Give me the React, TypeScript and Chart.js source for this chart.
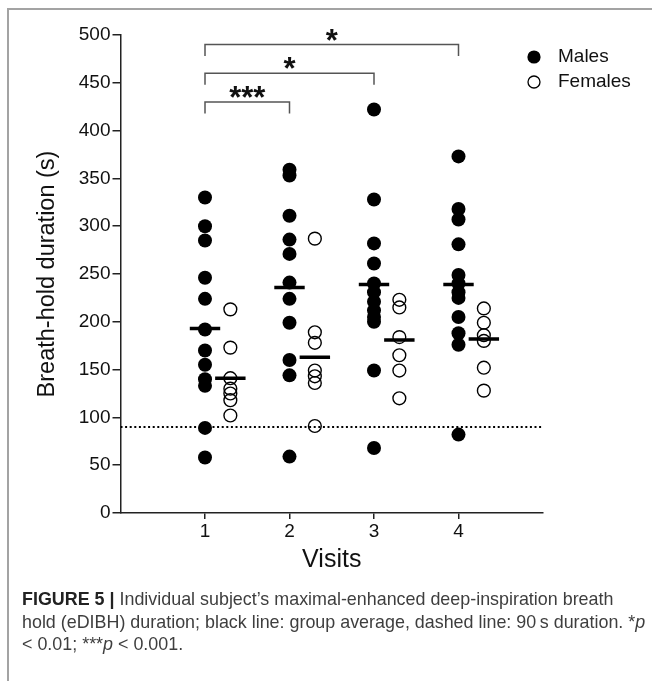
import React, { useEffect, useRef } from "react";
import { Chart, registerables } from "chart.js";

Chart.register(...registerables);

// ---------- data ----------
const visits = [1, 2, 3, 4];
const visitLabels = ["1", "2", "3", "4"];
const seriesNames = ["Males", "Females"];

const malesVisit1 = [330, 300, 285, 246, 224, 192, 170, 155, 140, 133, 89, 58];
const malesVisit2 = [359, 353, 311, 286, 271, 241, 224, 199, 160, 144, 59];
const malesVisit3 = [422, 328, 282, 261, 240, 231, 221, 212, 205, 200, 149, 68];
const malesVisit4 = [373, 318, 307, 281, 249, 240, 231, 225, 205, 188, 176, 82];

const femalesVisit1 = [213, 173, 141, 130, 125, 118, 102];
const femalesVisit2 = [287, 189, 178, 149, 143, 136, 91];
const femalesVisit3 = [223, 215, 184, 165, 149, 120];
const femalesVisit4 = [214, 199, 186, 180, 152, 128];

const maleMeans = [193, 236, 239, 239];
const femaleMeans = [141, 163, 181, 182];

const thresholdValue = 90;

const yMin = 0;
const yMax = 500;
const yStep = 50;
const xMin = 0;
const xMax = 5;

const bracketFrom = [1, 1, 1];
const bracketTo = [2, 3, 4];
const bracketLevel = [430, 460, 490];
const bracketLabels = ["***", "*", "*"];

const yTitle = "Breath-hold duration (s)";
const xTitle = "Visits";

// ---------- layout constants ----------
const FEMALE_OFFSET = 0.3;
const MEAN_HALF = 0.18;
const BRACKET_DROP = 12;
const FONT = '"Liberation Sans", Arial, Helvetica, sans-serif';
const W = 652;
const CH = 590;

const maleGroups = [malesVisit1, malesVisit2, malesVisit3, malesVisit4];
const femaleGroups = [femalesVisit1, femalesVisit2, femalesVisit3, femalesVisit4];

const overlayPlugin = {
  id: "overlay",
  afterDatasetsDraw(chart: any) {
    const { ctx, scales } = chart;
    const xs = scales.x;
    const ys = scales.y;
    ctx.save();
    // significance brackets
    for (let i = 0; i < bracketFrom.length; i++) {
      const x1 = xs.getPixelForValue(bracketFrom[i]);
      const x2 = xs.getPixelForValue(bracketTo[i]);
      const py = ys.getPixelForValue(bracketLevel[i]);
      const pd = ys.getPixelForValue(bracketLevel[i] - BRACKET_DROP);
      ctx.strokeStyle = "#555";
      ctx.lineWidth = 1.5;
      ctx.beginPath();
      ctx.moveTo(x1, pd);
      ctx.lineTo(x1, py);
      ctx.lineTo(x2, py);
      ctx.lineTo(x2, pd);
      ctx.stroke();
      ctx.fillStyle = "#111";
      ctx.font = `bold 31px ${FONT}`;
      ctx.textAlign = "center";
      ctx.textBaseline = "alphabetic";
      ctx.fillText(bracketLabels[i], (x1 + x2) / 2, py + 6);
    }
    // legend
    const lx = 534;
    const ly = [57, 82];
    ctx.fillStyle = "#000";
    ctx.beginPath();
    ctx.arc(lx, ly[0], 6.6, 0, Math.PI * 2);
    ctx.fill();
    ctx.strokeStyle = "#000";
    ctx.lineWidth = 1.3;
    ctx.beginPath();
    ctx.arc(lx, ly[1], 6, 0, Math.PI * 2);
    ctx.stroke();
    ctx.fillStyle = "#111";
    ctx.font = `19px ${FONT}`;
    ctx.textAlign = "left";
    ctx.textBaseline = "middle";
    ctx.fillText(seriesNames[0], 558, ly[0]);
    ctx.fillText(seriesNames[1], 558, ly[1]);
    ctx.restore();
  },
};

function meanSegments(means: number[], offset: number) {
  const out: any[] = [];
  means.forEach((m, i) => {
    out.push({ x: visits[i] + offset - MEAN_HALF, y: m });
    out.push({ x: visits[i] + offset + MEAN_HALF, y: m });
    out.push({ x: visits[i] + offset + 0.4, y: null });
  });
  return out;
}

export default function App() {
  const ref = useRef<HTMLCanvasElement | null>(null);

  useEffect(() => {
    if (!ref.current) return;
    const malePts = maleGroups.flatMap((g, i) => g.map((v) => ({ x: visits[i], y: v })));
    const femalePts = femaleGroups.flatMap((g, i) =>
      g.map((v) => ({ x: visits[i] + FEMALE_OFFSET, y: v }))
    );
    const chart = new Chart(ref.current, {
      type: "scatter",
      data: {
        datasets: [
          {
            type: "line",
            label: "threshold",
            data: [
              { x: xMin, y: thresholdValue },
              { x: xMax, y: thresholdValue },
            ],
            borderColor: "#000",
            borderWidth: 2,
            borderDash: [2, 2.6],
            pointRadius: 0,
            showLine: true,
            order: 5,
          } as any,
          {
            label: seriesNames[0],
            data: malePts,
            pointRadius: 7,
            pointBackgroundColor: "#000",
            pointBorderColor: "#000",
            pointBorderWidth: 0,
            order: 2,
            clip: false,
          } as any,
          {
            label: seriesNames[1],
            data: femalePts,
            pointRadius: 6.4,
            pointBackgroundColor: "rgba(0,0,0,0)",
            pointBorderColor: "#000",
            pointBorderWidth: 1.4,
            order: 1,
            clip: false,
          } as any,
          {
            type: "line",
            label: "male mean",
            data: meanSegments(maleMeans, 0),
            borderColor: "#000",
            borderWidth: 3.5,
            pointRadius: 0,
            spanGaps: false,
            showLine: true,
            order: 0,
          } as any,
          {
            type: "line",
            label: "female mean",
            data: meanSegments(femaleMeans, FEMALE_OFFSET),
            borderColor: "#000",
            borderWidth: 3.5,
            pointRadius: 0,
            spanGaps: false,
            showLine: true,
            order: 0,
          } as any,
        ],
      },
      options: {
        responsive: false,
        animation: false,
        events: [],
        layout: { padding: { left: 20, top: 35, right: W - 543, bottom: 0 } },
        plugins: { legend: { display: false }, tooltip: { enabled: false } },
        scales: {
          x: {
            type: "linear",
            min: xMin,
            max: xMax,
            afterFit: (s: any) => {
              s.height = CH - 513;
            },
            afterBuildTicks: (s: any) => {
              s.ticks = visits.map((v) => ({ value: v }));
            },
            ticks: {
              callback: (v: any) => visitLabels[visits.indexOf(Number(v))] ?? "",
              font: { size: 19, family: FONT },
              color: "#111",
              padding: 1,
              maxRotation: 0,
              autoSkip: false,
            },
            grid: { drawOnChartArea: false, drawTicks: true, tickLength: 6, color: "#222", lineWidth: 1.5 },
            border: { display: true, color: "#222", width: 1.5 },
            title: {
              display: true,
              text: xTitle,
              font: { size: 25, family: FONT },
              color: "#111",
              padding: { top: 0, bottom: 15 },
            },
          },
          y: {
            type: "linear",
            min: yMin,
            max: yMax,
            afterFit: (s: any) => {
              s.width = 120.5 - 20;
            },
            ticks: {
              stepSize: yStep,
              font: { size: 19, family: FONT },
              color: "#111",
              padding: 2,
            },
            grid: { drawOnChartArea: false, drawTicks: true, tickLength: 8, color: "#222", lineWidth: 1.5 },
            border: { display: true, color: "#222", width: 1.5 },
            title: {
              display: true,
              text: yTitle,
              font: { size: 23.5, family: FONT },
              color: "#111",
              padding: { top: 13, bottom: 0 },
            },
          },
        },
      },
      plugins: [overlayPlugin],
    } as any);
    return () => chart.destroy();
  }, []);

  return (
    <div
      style={{
        position: "absolute",
        left: 0,
        top: 0,
        width: W,
        height: 681,
        background: "#fff",
        overflow: "hidden",
        fontFamily: FONT,
      }}
    >
      <div style={{ position: "absolute", left: 7, top: 8, right: 0, height: 2, background: "#a3a3a3" }} />
      <div style={{ position: "absolute", left: 7, top: 8, width: 2, bottom: 0, background: "#a3a3a3" }} />
      <canvas
        ref={ref}
        width={W}
        height={CH}
        style={{ position: "absolute", left: 0, top: 0, width: W, height: CH }}
      />
      <div
        style={{
          position: "absolute",
          left: 22,
          top: 588,
          fontSize: 17.9,
          lineHeight: "22.5px",
          color: "#3e3e3e",
          whiteSpace: "nowrap",
        }}
      >
        <div>
          <b style={{ color: "#222" }}>FIGURE 5 |</b> Individual subject’s maximal-enhanced deep-inspiration breath
        </div>
        <div>
          hold (eDIBH) duration; black line: group average, dashed line: 90{"\u2009"}s duration. *<i>p</i>
        </div>
        <div>
          &lt; 0.01; ***<i>p</i> &lt; 0.001.
        </div>
      </div>
    </div>
  );
}
